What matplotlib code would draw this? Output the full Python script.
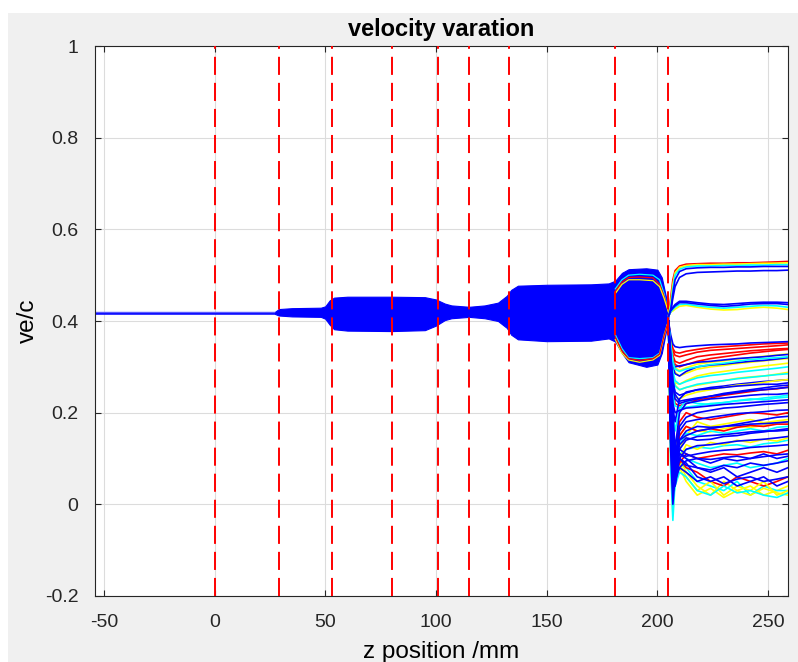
import matplotlib
matplotlib.use('Agg')
import matplotlib.pyplot as plt
from matplotlib.patches import Rectangle

plt.rcParams['font.family'] = ['Liberation Sans', 'DejaVu Sans']
plt.rcParams['axes.unicode_minus'] = False

# envelope of the blue bundle of trajectories (z in mm, ve/c)
env_z = [-54, 27, 29, 35, 48, 50, 52, 54, 60, 80, 95, 100, 104, 107, 115, 122,
         128, 132, 134, 137, 150, 170, 178, 181, 184, 187, 195, 200, 202, 204, 205]
env_top = [0.419, 0.419, 0.426, 0.428, 0.429, 0.432, 0.445, 0.451, 0.453, 0.453,
           0.452, 0.447, 0.438, 0.434, 0.431, 0.434, 0.440, 0.455, 0.468, 0.477,
           0.479, 0.480, 0.482, 0.488, 0.505, 0.513, 0.515, 0.512, 0.495, 0.450, 0.425]
env_bot = [0.416, 0.416, 0.412, 0.410, 0.409, 0.405, 0.392, 0.382, 0.379, 0.378,
           0.380, 0.390, 0.402, 0.406, 0.409, 0.406, 0.400, 0.385, 0.370, 0.360,
           0.356, 0.357, 0.362, 0.355, 0.330, 0.310, 0.300, 0.305, 0.330, 0.380, 0.400]

# coloured trajectories at the edges of the bulge (181-205 mm)
bulge_z = [181, 184, 187, 192, 198, 201, 203, 205]
bulge_lines = [
    ('#00ffff', [0.470, 0.490, 0.500, 0.502, 0.500, 0.490, 0.460, 0.420]),
    ('#ff0000', [0.465, 0.485, 0.495, 0.496, 0.494, 0.480, 0.455, 0.420]),
    ('#ffff00', [0.460, 0.480, 0.490, 0.490, 0.488, 0.475, 0.450, 0.420]),
    ('#00ffff', [0.370, 0.340, 0.320, 0.318, 0.320, 0.330, 0.370, 0.400]),
    ('#ffff00', [0.360, 0.330, 0.315, 0.310, 0.315, 0.325, 0.365, 0.400]),
    ('#ff0000', [0.365, 0.335, 0.318, 0.314, 0.318, 0.328, 0.368, 0.400]),
]

# trajectories after the output section (z > 205 mm)
tail_z = [205, 206, 207, 208, 210, 213, 218, 224, 230, 236, 242, 248, 254, 259]
tail_lines = [
    ('#ff0000', [0.41, 0.45, 0.49, 0.51, 0.52, 0.524, 0.525, 0.526, 0.526, 0.527, 0.527, 0.528, 0.529, 0.530]),
    ('#ffff00', [0.41, 0.44, 0.48, 0.505, 0.517, 0.521, 0.523, 0.523, 0.524, 0.524, 0.525, 0.526, 0.526, 0.527]),
    ('#00ffff', [0.41, 0.43, 0.47, 0.50, 0.513, 0.518, 0.52, 0.52, 0.521, 0.521, 0.522, 0.522, 0.523, 0.523]),
    ('#0000ff', [0.41, 0.42, 0.46, 0.49, 0.508, 0.514, 0.516, 0.517, 0.517, 0.518, 0.518, 0.519, 0.519, 0.519]),
    ('#0000ff', [0.41, 0.42, 0.45, 0.475, 0.495, 0.503, 0.506, 0.507, 0.508, 0.509, 0.509, 0.51, 0.51, 0.511]),
    ('#ffff00', [0.41, 0.42, 0.422, 0.426, 0.432, 0.434, 0.43, 0.426, 0.424, 0.425, 0.428, 0.43, 0.428, 0.425]),
    ('#00ffff', [0.41, 0.42, 0.425, 0.43, 0.436, 0.437, 0.433, 0.43, 0.428, 0.43, 0.432, 0.434, 0.433, 0.43]),
    ('#0000ff', [0.41, 0.422, 0.428, 0.433, 0.44, 0.44, 0.437, 0.434, 0.432, 0.434, 0.437, 0.438, 0.438, 0.436]),
    ('#0000ff', [0.41, 0.425, 0.43, 0.436, 0.443, 0.443, 0.44, 0.437, 0.436, 0.438, 0.44, 0.441, 0.441, 0.44]),
    ('#ff0000', [0.40, 0.36, 0.335, 0.325, 0.322, 0.326, 0.332, 0.336, 0.338, 0.34, 0.342, 0.344, 0.346, 0.348]),
    ('#ff0000', [0.40, 0.355, 0.325, 0.312, 0.308, 0.314, 0.322, 0.326, 0.329, 0.332, 0.335, 0.337, 0.339, 0.34]),
    ('#ff0000', [0.40, 0.35, 0.32, 0.305, 0.3, 0.305, 0.312, 0.318, 0.322, 0.326, 0.33, 0.333, 0.336, 0.338]),
    ('#ff0000', [0.40, 0.36, 0.34, 0.332, 0.33, 0.334, 0.338, 0.342, 0.344, 0.346, 0.348, 0.35, 0.351, 0.352]),
    ('#ffff00', [0.40, 0.35, 0.315, 0.298, 0.292, 0.298, 0.306, 0.31, 0.313, 0.317, 0.32, 0.323, 0.326, 0.328]),
    ('#ffff00', [0.40, 0.345, 0.305, 0.288, 0.28, 0.286, 0.295, 0.3, 0.303, 0.307, 0.31, 0.313, 0.316, 0.318]),
    ('#ffff00', [0.40, 0.33, 0.285, 0.265, 0.262, 0.27, 0.28, 0.286, 0.29, 0.294, 0.298, 0.302, 0.305, 0.308]),
    ('#ffff00', [0.40, 0.33, 0.28, 0.26, 0.25, 0.255, 0.26, 0.265, 0.27, 0.275, 0.278, 0.28, 0.284, 0.288]),
    ('#0000ff', [0.40, 0.37, 0.35, 0.344, 0.342, 0.344, 0.346, 0.348, 0.349, 0.35, 0.352, 0.353, 0.354, 0.355]),
    ('#0000ff', [0.40, 0.34, 0.30, 0.285, 0.28, 0.29, 0.3, 0.304, 0.306, 0.309, 0.312, 0.314, 0.317, 0.32]),
    ('#0000ff', [0.40, 0.34, 0.31, 0.3, 0.302, 0.305, 0.31, 0.312, 0.315, 0.318, 0.32, 0.322, 0.325, 0.327]),
    ('#00ffff', [0.40, 0.35, 0.31, 0.295, 0.29, 0.295, 0.3, 0.305, 0.308, 0.312, 0.316, 0.318, 0.32, 0.322]),
    ('#00ffff', [0.40, 0.335, 0.29, 0.27, 0.262, 0.268, 0.276, 0.281, 0.284, 0.288, 0.291, 0.294, 0.297, 0.30]),
    ('#00ffff', [0.40, 0.33, 0.28, 0.258, 0.25, 0.255, 0.262, 0.266, 0.27, 0.274, 0.277, 0.28, 0.283, 0.285]),
    ('#0000ff', [0.40, 0.325, 0.27, 0.245, 0.238, 0.243, 0.25, 0.255, 0.258, 0.262, 0.265, 0.268, 0.27, 0.272]),
    ('#ffff00', [0.40, 0.32, 0.26, 0.235, 0.23, 0.238, 0.245, 0.25, 0.255, 0.26, 0.262, 0.266, 0.27, 0.272]),
    ('#ff0000', [0.40, 0.31, 0.25, 0.22, 0.215, 0.22, 0.228, 0.232, 0.238, 0.242, 0.246, 0.25, 0.252, 0.256]),
    ('#00ffff', [0.40, 0.31, 0.24, 0.215, 0.21, 0.212, 0.215, 0.22, 0.222, 0.226, 0.228, 0.232, 0.235, 0.238]),
    ('#ffff00', [0.40, 0.1, -0.02, 0.06, 0.10, 0.07, 0.04, 0.02, 0.05, 0.03, 0.04, 0.02, 0.03, 0.04]),
    ('#00ffff', [0.40, 0.08, -0.035, 0.05, 0.09, 0.08, 0.05, 0.04, 0.03, 0.05, 0.02, 0.04, 0.03, 0.03]),
    ('#ff0000', [0.40, 0.14, 0.03, 0.07, 0.1, 0.08, 0.07, 0.05, 0.04, 0.06, 0.05, 0.04, 0.05, 0.06]),
    ('#ffff00', [0.40, 0.15, 0.04, 0.07, 0.09, 0.06, 0.03, 0.05, 0.02, 0.04, 0.03, 0.05, 0.02, 0.03]),
    ('#ffff00', [0.40, 0.13, 0.02, 0.05, 0.08, 0.05, 0.02, 0.035, 0.015, 0.03, 0.02, 0.035, 0.025, 0.02]),
    ('#00ffff', [0.40, 0.12, 0.01, 0.04, 0.07, 0.06, 0.03, 0.02, 0.04, 0.025, 0.03, 0.02, 0.015, 0.025]),
    ('#00ffff', [0.40, 0.15, 0.06, 0.09, 0.11, 0.1, 0.09, 0.08, 0.085, 0.09, 0.08, 0.085, 0.09, 0.1]),
    ('#ff0000', [0.40, 0.28, 0.17, 0.11, 0.18, 0.20, 0.19, 0.185, 0.19, 0.195, 0.2, 0.198, 0.195, 0.2]),
    ('#ffff00', [0.40, 0.27, 0.15, 0.08, 0.12, 0.15, 0.18, 0.17, 0.175, 0.18, 0.185, 0.178, 0.182, 0.185]),
    ('#ffff00', [0.40, 0.28, 0.18, 0.12, 0.15, 0.17, 0.16, 0.158, 0.165, 0.17, 0.168, 0.172, 0.178, 0.18]),
    ('#00ffff', [0.40, 0.26, 0.14, 0.07, 0.13, 0.155, 0.15, 0.16, 0.155, 0.16, 0.165, 0.16, 0.168, 0.17]),
    ('#00ffff', [0.40, 0.25, 0.14, 0.08, 0.11, 0.12, 0.125, 0.122, 0.128, 0.13, 0.125, 0.132, 0.135, 0.14]),
    ('#ffff00', [0.40, 0.25, 0.12, 0.06, 0.10, 0.13, 0.12, 0.135, 0.13, 0.14, 0.135, 0.142, 0.138, 0.145]),
    ('#ff0000', [0.40, 0.24, 0.12, 0.07, 0.15, 0.17, 0.16, 0.165, 0.16, 0.168, 0.172, 0.17, 0.175, 0.175]),
    ('#ff0000', [0.40, 0.24, 0.13, 0.06, 0.09, 0.11, 0.1, 0.105, 0.11, 0.108, 0.112, 0.115, 0.11, 0.118]),
    ('#00ffff', [0.40, 0.29, 0.2, 0.16, 0.21, 0.225, 0.22, 0.218, 0.222, 0.226, 0.23, 0.228, 0.232, 0.234]),
    ('#0000ff', [0.40, 0.12, 0.0, 0.06, 0.10, 0.09, 0.06, 0.05, 0.06, 0.04, 0.05, 0.06, 0.04, 0.05]),
    ('#0000ff', [0.40, 0.14, 0.03, 0.06, 0.08, 0.07, 0.05, 0.06, 0.045, 0.055, 0.06, 0.05, 0.055, 0.06]),
    ('#0000ff', [0.40, 0.16, 0.05, 0.08, 0.11, 0.1, 0.08, 0.07, 0.08, 0.06, 0.07, 0.08, 0.07, 0.08]),
    ('#0000ff', [0.40, 0.18, 0.07, 0.1, 0.12, 0.11, 0.1, 0.09, 0.1, 0.095, 0.1, 0.11, 0.1, 0.105]),
    ('#0000ff', [0.40, 0.2, 0.09, 0.08, 0.1, 0.085, 0.08, 0.075, 0.085, 0.08, 0.09, 0.085, 0.09, 0.095]),
    ('#0000ff', [0.40, 0.30, 0.20, 0.12, 0.20, 0.22, 0.225, 0.23, 0.232, 0.235, 0.238, 0.24, 0.24, 0.242]),
    ('#0000ff', [0.40, 0.29, 0.18, 0.10, 0.17, 0.19, 0.2, 0.205, 0.21, 0.212, 0.215, 0.218, 0.22, 0.222]),
    ('#0000ff', [0.40, 0.28, 0.16, 0.08, 0.16, 0.18, 0.185, 0.19, 0.194, 0.198, 0.2, 0.202, 0.205, 0.206]),
    ('#0000ff', [0.40, 0.27, 0.17, 0.10, 0.14, 0.15, 0.16, 0.165, 0.17, 0.175, 0.18, 0.185, 0.19, 0.192]),
    ('#0000ff', [0.40, 0.26, 0.13, 0.05, 0.14, 0.16, 0.17, 0.168, 0.17, 0.172, 0.175, 0.176, 0.178, 0.18]),
    ('#0000ff', [0.40, 0.26, 0.16, 0.09, 0.13, 0.145, 0.14, 0.142, 0.148, 0.15, 0.155, 0.158, 0.162, 0.165]),
    ('#0000ff', [0.40, 0.25, 0.12, 0.04, 0.12, 0.14, 0.148, 0.15, 0.152, 0.155, 0.158, 0.16, 0.16, 0.162]),
    ('#0000ff', [0.40, 0.24, 0.11, 0.04, 0.10, 0.12, 0.128, 0.13, 0.134, 0.138, 0.14, 0.142, 0.145, 0.148]),
    ('#0000ff', [0.40, 0.23, 0.12, 0.05, 0.08, 0.095, 0.1, 0.098, 0.102, 0.105, 0.1, 0.104, 0.108, 0.11]),
    ('#0000ff', [0.40, 0.27, 0.15, 0.07, 0.11, 0.105, 0.11, 0.115, 0.118, 0.12, 0.124, 0.126, 0.128, 0.13]),
    ('#0000ff', [0.40, 0.3, 0.21, 0.18, 0.23, 0.245, 0.25, 0.252, 0.255, 0.258, 0.26, 0.262, 0.262, 0.265]),
    ('#0000ff', [0.40, 0.30, 0.22, 0.2, 0.205, 0.21, 0.212, 0.215, 0.218, 0.22, 0.222, 0.224, 0.226, 0.228]),
    ('#0000ff', [0.40, 0.32, 0.26, 0.23, 0.22, 0.225, 0.23, 0.236, 0.242, 0.246, 0.25, 0.254, 0.258, 0.26]),
    ('#0000ff', [0.40, 0.33, 0.27, 0.24, 0.225, 0.228, 0.232, 0.236, 0.24, 0.244, 0.248, 0.25, 0.253, 0.255]),
]

# positions of the cavity / section boundaries (mm)
boundaries = [0, 29, 53, 80, 101, 115, 133, 181, 205]

x_ticks = [-50, 0, 50, 100, 150, 200, 250]
y_ticks = [-0.2, 0, 0.2, 0.4, 0.6, 0.8, 1]
y_tick_labels = ['-0.2', '0', '0.2', '0.4', '0.6', '0.8', '1']

fig = plt.figure(figsize=(7.98, 6.62), dpi=100, facecolor='white')
fig.patches.append(Rectangle((8 / 798, 0), 1, 1 - 13 / 662, transform=fig.transFigure,
                             facecolor='#f0f0f0', edgecolor='none', zorder=-10))
ax = fig.add_axes([95 / 798, 1 - 596 / 662, 693 / 798, 550 / 662])

ax.fill_between(env_z, env_bot, env_top, color='#0000ff', linewidth=0.8, zorder=2)
ax.plot(env_z[:2], env_top[:2], color='#5a5aff', linewidth=1.0, zorder=2)
for c, v in bulge_lines:
    ax.plot(bulge_z, v, color=c, linewidth=0.9, zorder=3)
for c, v in tail_lines:
    ax.plot(tail_z, v, color=c, linewidth=1.2, zorder=3)

for b in boundaries:
    ax.axvline(b, color='#ff0000', linewidth=1.4, linestyle=(0, (9.3, 4.1)), zorder=5)

ax.set_xlim(-54, 259)
ax.set_ylim(-0.2, 1)
ax.set_xticks(x_ticks)
ax.set_yticks(y_ticks)
ax.set_yticklabels(y_tick_labels)
ax.grid(True, color='#dcdcdc', linewidth=0.8)
ax.set_axisbelow(True)
ax.tick_params(direction='in', top=True, right=True, length=4, width=0.8,
               labelsize=14, colors='#262626')
ax.tick_params(axis='x', pad=13)
ax.tick_params(axis='y', pad=12)
for s in ax.spines.values():
    s.set_color('#262626')
    s.set_linewidth(0.8)

ax.set_title('velocity varation', fontsize=17, fontweight='bold', pad=7)
ax.set_ylabel('ve/c', fontsize=17.5, labelpad=4)
ax.set_xlabel('z position /mm', fontsize=17.5, labelpad=7)

fig.savefig('out.png', dpi=100, facecolor=fig.get_facecolor())
plt.close()
